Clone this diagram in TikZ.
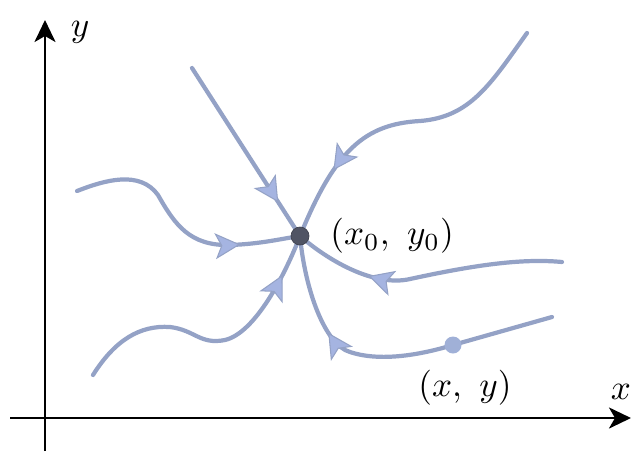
\documentclass[tikz,border=0pt]{standalone}
\usepackage{tikz}
\usetikzlibrary{arrows.meta,decorations.markings}
\definecolor{flowline}{RGB}{148,162,198}
\definecolor{flowfill}{RGB}{165,180,225}
\definecolor{eqgray}{RGB}{80,84,100}
\definecolor{ptblue}{RGB}{160,176,215}

\tikzset{
  axis/.style={line width=1.6pt,-{Stealth[length=0.44cm,width=0.42cm,inset=0.12cm]}},
  flow/.style={draw=flowline,line width=2.4pt,line cap=round,
    postaction={decorate},
    decoration={markings,mark=at position #1 with
      {\arrow{Stealth[length=0.5cm,width=0.52cm,inset=0.12cm,line width=0.6pt,color=flowline,fill=flowfill]}}}},
  lbl/.style={scale=2},
  eqdot/.style={circle,fill=eqgray,draw=eqgray!80!black,inner sep=0pt,minimum size=0.36cm},
  ptdot/.style={circle,fill=ptblue,inner sep=0pt,minimum size=0.34cm}
}

\begin{document}
\begin{tikzpicture}[x=0.02cm,y=-0.02cm]
  % pixel grid of the sketch: x to the right, y downwards
  \useasboundingbox (0,0) rectangle (632,451);

  % axes
  \coordinate (xbeg) at (10,418);
  \coordinate (xend) at (631,418);
  \coordinate (ybeg) at (45,451);
  \coordinate (yend) at (45,20);
  \draw[axis] (xbeg) -- (xend);
  \draw[axis] (ybeg) -- (yend);
  \node[lbl] (ylbl) at (80,32) {$y$};
  \node[lbl] (xlbl) at (621,392) {$x$};

  % equilibrium point and the sample point
  \coordinate (eqc) at (300,236);
  \coordinate (ptc) at (453,345);

  % start points of the trajectories
  \coordinate (s1) at (192,68);
  \coordinate (s2) at (527,33);
  \coordinate (s3) at (77,191);
  \coordinate (s4) at (93,375);
  \coordinate (s5) at (562,262);
  \coordinate (s6) at (552,317);

  % trajectories, all running into (x_0,y_0)
  \draw[flow=0.8] (s1) -- (eqc);
  \draw[flow=0.77] (s2) .. controls (490,85) and (470,117) .. (420,121)
    .. controls (365,124) and (335,150) .. (eqc);
  \draw[flow=0.76] (s3) .. controls (105,180) and (140,170) .. (158,195)
    .. controls (175,225) and (190,246) .. (230,245)
    .. controls (260,244) and (280,239) .. (eqc);
  \draw[flow=0.85] (s4) .. controls (115,340) and (140,325) .. (170,327)
    .. controls (195,330) and (200,345) .. (225,340)
    .. controls (255,333) and (285,275) .. (eqc);
  \draw[flow=0.71] (s5) .. controls (520,258) and (470,266) .. (410,279)
    .. controls (375,287) and (330,262) .. (eqc);
  \draw[flow=0.70] (s6) -- (ptc) .. controls (420,355) and (380,362) .. (350,352)
    .. controls (325,345) and (305,290) .. (eqc);

  \node[eqdot] (eq) at (eqc) {};
  \node[ptdot] (pt) at (ptc) {};

  % labels
  \node[lbl,anchor=west] (eqlbl) at (318,236) {$(x_0,\ y_0)$};
  \node[lbl] (ptlbl) at (465,388) {$(x,\ y)$};
\end{tikzpicture}
\end{document}
